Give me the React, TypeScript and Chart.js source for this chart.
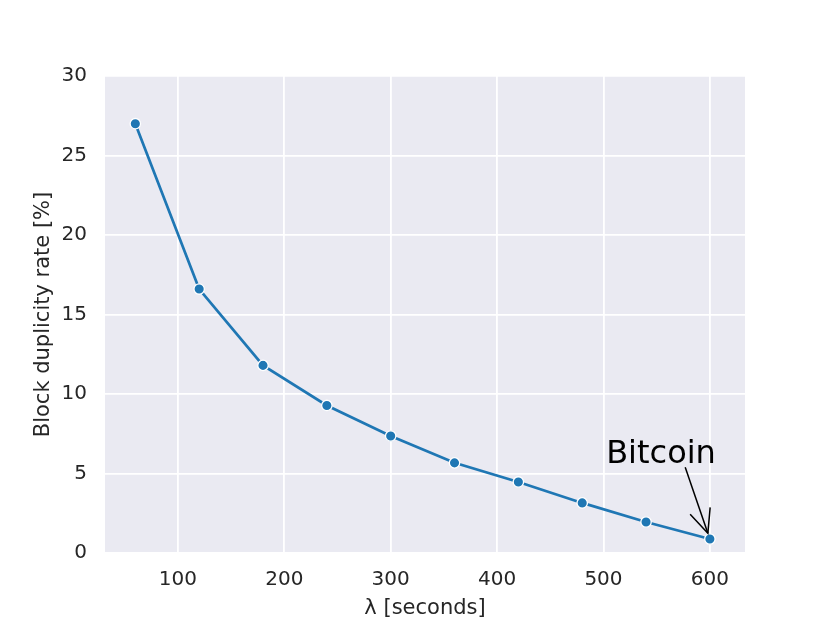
import React, { useEffect, useRef } from "react";
import { Chart, registerables } from "chart.js";

Chart.register(...registerables);

const xValues = [60, 120, 180, 240, 300, 360, 420, 480, 540, 600];
const yValues = [27.0, 16.6, 11.8, 9.28, 7.36, 5.67, 4.47, 3.15, 1.95, 0.88];
const xTicks = [100, 200, 300, 400, 500, 600];
const yTicks = [0, 5, 10, 15, 20, 25, 30];
const xLimits = [31.5, 633];
const yLimits = [0, 30];
const annotationText = "Bitcoin";
const annotationTextPos = [502.5, 5.64];
const arrowStart = [576.8, 5.39];
const arrowTip = [598.1, 1.24];

const FONT = "'DejaVu Sans', sans-serif";
const TEXT_COLOR = "#262626";

const bgPlugin = {
  id: "bgPlugin",
  beforeDraw(chart: any) {
    const { ctx, chartArea } = chart;
    ctx.save();
    ctx.fillStyle = "#EAEAF2";
    ctx.fillRect(chartArea.left, chartArea.top, chartArea.right - chartArea.left, chartArea.bottom - chartArea.top);
    ctx.restore();
  },
};

const annotationPlugin = {
  id: "annotationPlugin",
  afterDraw(chart: any) {
    const { ctx } = chart;
    const xs = chart.scales.x;
    const ys = chart.scales.y;
    ctx.save();
    ctx.fillStyle = "#000000";
    ctx.font = `32px ${FONT}`;
    ctx.textAlign = "left";
    ctx.textBaseline = "alphabetic";
    ctx.fillText(annotationText, xs.getPixelForValue(annotationTextPos[0]), ys.getPixelForValue(annotationTextPos[1]));

    const x0 = xs.getPixelForValue(arrowStart[0]);
    const y0 = ys.getPixelForValue(arrowStart[1]);
    const x1 = xs.getPixelForValue(arrowTip[0]);
    const y1 = ys.getPixelForValue(arrowTip[1]);
    ctx.strokeStyle = "#000000";
    ctx.lineWidth = 1.5;
    ctx.beginPath();
    ctx.moveTo(x0, y0);
    ctx.lineTo(x1, y1);
    ctx.stroke();
    const ang = Math.atan2(y0 - y1, x0 - x1);
    const half = (24 * Math.PI) / 180;
    const len = 26;
    ctx.beginPath();
    ctx.moveTo(x1 + len * Math.cos(ang - half), y1 + len * Math.sin(ang - half));
    ctx.lineTo(x1, y1);
    ctx.lineTo(x1 + len * Math.cos(ang + half), y1 + len * Math.sin(ang + half));
    ctx.stroke();
    ctx.restore();
  },
};

export default function App() {
  const ref = useRef<HTMLCanvasElement | null>(null);
  useEffect(() => {
    if (!ref.current) return;
    const chart = new Chart(ref.current, {
      type: "line",
      data: {
        datasets: [
          {
            data: xValues.map((x, i) => ({ x, y: yValues[i] })),
            borderColor: "#1f77b4",
            backgroundColor: "#1f77b4",
            borderWidth: 2.7,
            pointRadius: 5.2,
            pointBorderColor: "#ffffff",
            pointBorderWidth: 1.3,
            pointBackgroundColor: "#1f77b4",
            tension: 0,
          },
        ],
      },
      options: {
        animation: false,
        responsive: false,
        devicePixelRatio: 1,
        layout: { padding: { top: 76, right: 85, left: 0, bottom: 0 } },
        plugins: { legend: { display: false }, tooltip: { enabled: false } },
        scales: {
          x: {
            type: "linear",
            position: "bottom",
            min: xLimits[0],
            max: xLimits[1],
            afterBuildTicks: (s: any) => {
              s.ticks = xTicks.map((v) => ({ value: v }));
            },
            afterFit: (s: any) => {
              s.height = 70;
            },
            grid: { color: "#ffffff", lineWidth: 1.8, drawTicks: false },
            border: { display: false },
            ticks: { padding: 15, color: TEXT_COLOR, font: { family: FONT, size: 20 } },
            title: {
              display: true,
              text: "λ [seconds]",
              color: TEXT_COLOR,
              font: { family: FONT, size: 21 },
              padding: { top: 0, bottom: 2 },
            },
          },
          y: {
            type: "linear",
            min: yLimits[0],
            max: yLimits[1],
            afterBuildTicks: (s: any) => {
              s.ticks = yTicks.map((v) => ({ value: v }));
            },
            afterFit: (s: any) => {
              s.width = 105;
            },
            grid: { color: "#ffffff", lineWidth: 1.8, drawTicks: false },
            border: { display: false },
            ticks: { padding: 18, color: TEXT_COLOR, font: { family: FONT, size: 20 } },
            title: {
              display: true,
              text: "Block duplicity rate [%]",
              color: TEXT_COLOR,
              font: { family: FONT, size: 21 },
              padding: { top: 31, bottom: 0 },
            },
          },
        },
      },
      plugins: [bgPlugin, annotationPlugin],
    });
    return () => chart.destroy();
  }, []);
  return (
    <div style={{ position: "absolute", left: 0, top: 0, width: 830, height: 623, background: "#ffffff" }}>
      <canvas ref={ref} width={830} height={623} />
    </div>
  );
}
